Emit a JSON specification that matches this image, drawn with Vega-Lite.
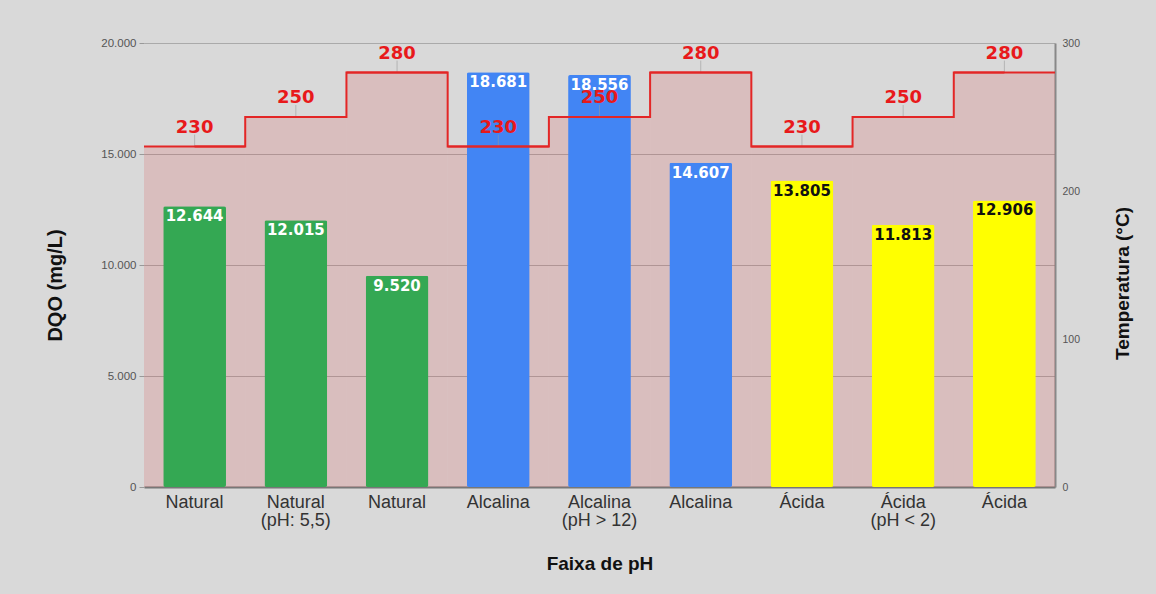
{
  "$schema": "https://vega.github.io/schema/vega-lite/v6.json",
  "width": 911,
  "height": 444,
  "autosize": "none",
  "padding": {"left": 144, "top": 43, "right": 101, "bottom": 107},
  "background": "#d9d9d9",
  "config": {
    "view": {"stroke": null},
    "font": "Liberation Sans",
    "locale": {"number": {"decimal": ",", "thousands": ".", "grouping": [3], "currency": ["R$", ""]}}
  },
  "data": {
    "values": [
      {"cat": "Natural", "grupo": "Natural", "dqo": 12644, "temp": 230},
      {"cat": "Natural\n(pH: 5,5)", "grupo": "Natural", "dqo": 12015, "temp": 250},
      {"cat": "Natural ", "grupo": "Natural", "dqo": 9520, "temp": 280},
      {"cat": "Alcalina", "grupo": "Alcalina", "dqo": 18681, "temp": 230},
      {"cat": "Alcalina\n(pH > 12)", "grupo": "Alcalina", "dqo": 18556, "temp": 250},
      {"cat": "Alcalina ", "grupo": "Alcalina", "dqo": 14607, "temp": 280},
      {"cat": "Ácida", "grupo": "Ácida", "dqo": 13805, "temp": 230},
      {"cat": "Ácida\n(pH < 2)", "grupo": "Ácida", "dqo": 11813, "temp": 250},
      {"cat": "Ácida ", "grupo": "Ácida", "dqo": 12906, "temp": 280}
    ]
  },
  "encoding": {
    "x": {
      "field": "cat",
      "type": "nominal",
      "sort": null,
      "scale": {"paddingInner": 0, "paddingOuter": 0},
      "axis": {
        "title": "Faixa de pH",
        "titleFontSize": 19,
        "titleFontWeight": "bold",
        "titleColor": "#111",
        "titleY": 76,
        "titleBaseline": "middle",
        "labelFontSize": 18,
        "labelColor": "#333",
        "labelAngle": 0,
        "labelPadding": 6,
        "labelLineHeight": 18,
        "labelExpr": "split(trim(datum.value), '\\n')",
        "ticks": false,
        "domainColor": "#777",
        "domainWidth": 2
      }
    }
  },
  "layer": [
    {
      "mark": {"type": "bar", "fill": "#e00000", "opacity": 0.12, "width": {"band": 1}},
      "encoding": {
        "y": {
          "field": "temp",
          "type": "quantitative",
          "scale": {"domain": [0, 300]},
          "axis": {
            "orient": "right",
            "title": "Temperatura (°C)",
            "titleFontSize": 19,
            "titleFontWeight": "bold",
            "titleColor": "#111",
            "titleAngle": 270,
            "titleX": 67,
            "titleY": 240,
            "titleAlign": "center",
            "titleBaseline": "middle",
            "labelFontSize": 10.5,
            "labelColor": "#555",
            "labelPadding": 7,
            "ticks": false,
            "domainColor": "#888",
            "domainWidth": 2,
            "grid": false,
            "values": [0, 100, 200, 300]
          }
        }
      }
    },
    {
      "encoding": {
        "y": {
          "field": "dqo",
          "type": "quantitative",
          "scale": {"domain": [0, 20000]},
          "axis": {
            "orient": "left",
            "title": "DQO (mg/L)",
            "titleFontSize": 20,
            "titleFontWeight": "bold",
            "titleColor": "#111",
            "titleAngle": 270,
            "titleX": -89,
            "titleY": 242,
            "titleAlign": "center",
            "titleBaseline": "middle",
            "labelFontSize": 11.5,
            "labelColor": "#555",
            "labelPadding": 3,
            "tickSize": 5,
            "tickColor": "#999",
            "domain": false,
            "grid": true,
            "gridColor": "#aaaaaa",
            "gridWidth": 1,
            "values": [0, 5000, 10000, 15000, 20000]
          }
        }
      },
      "layer": [
        {
          "mark": {"type": "bar", "width": {"band": 0.62}, "cornerRadius": 2},
          "encoding": {
            "color": {
              "field": "grupo",
              "type": "nominal",
              "scale": {"domain": ["Natural", "Alcalina", "Ácida"], "range": ["#34a853", "#4285f4", "#ffff00"]},
              "legend": null
            }
          }
        },
        {
          "mark": {"type": "text", "baseline": "top", "dy": 3, "fontSize": 15, "fontWeight": "bold", "font": "DejaVu Sans", "letterSpacing": 0.6},
          "encoding": {
            "text": {"field": "dqo", "type": "quantitative", "format": ",d"},
            "color": {"condition": {"test": "datum.grupo === 'Ácida'", "value": "#111111"}, "value": "#ffffff"}
          }
        }
      ]
    },
    {
      "encoding": {
        "y": {"field": "temp", "type": "quantitative", "scale": {"domain": [0, 300]}, "axis": null}
      },
      "layer": [
        {
          "mark": {"type": "rule", "y2Offset": -12, "stroke": "#999999", "strokeWidth": 0.8, "opacity": 0.7},
          "encoding": {"y2": {"field": "temp"}}
        },
        {
          "mark": {"type": "rect", "fill": null, "stroke": "#e32626", "strokeWidth": 2},
          "encoding": {"y2": {"field": "temp"}}
        },
        {
          "mark": {"type": "line", "interpolate": "step", "stroke": "#e32626", "strokeWidth": 2}
        },
        {
          "mark": {"type": "text", "baseline": "alphabetic", "dy": -14, "fontSize": 18, "fontWeight": "bold", "font": "DejaVu Sans", "fill": "#e8191b"},
          "encoding": {"text": {"field": "temp", "type": "quantitative"}}
        }
      ]
    }
  ],
  "resolve": {"scale": {"y": "independent"}}
}
